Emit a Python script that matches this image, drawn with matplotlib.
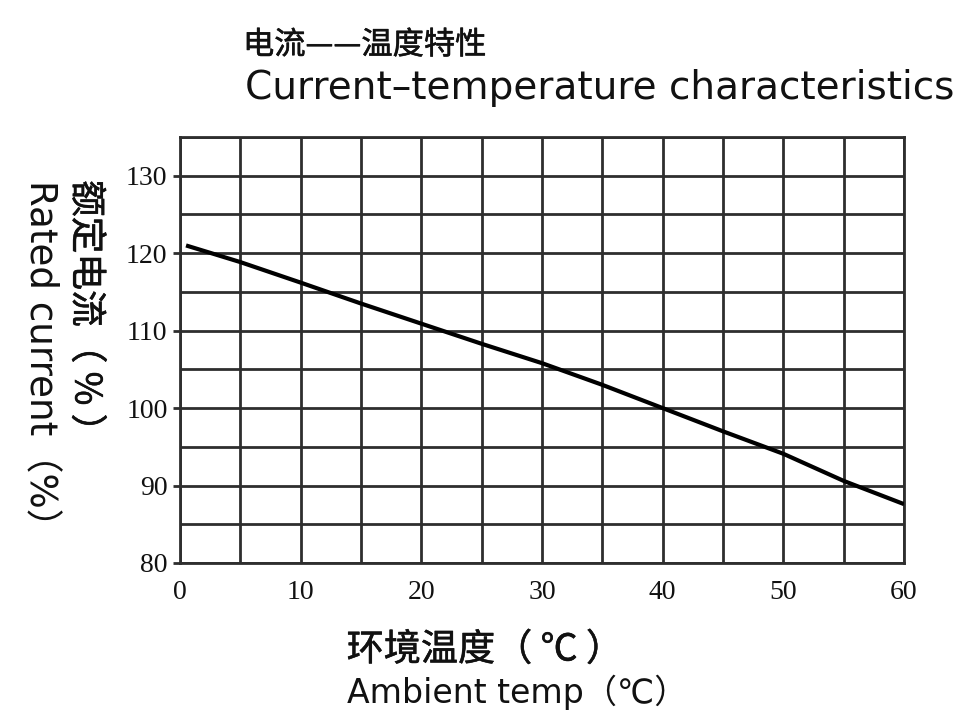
import matplotlib
matplotlib.use("Agg")
import matplotlib.pyplot as plt
import matplotlib.patheffects as pe
from matplotlib.ticker import MultipleLocator

temp = [0.5, 5, 10, 15, 20, 25, 30, 35, 40, 45, 50, 55, 60]
current = [121.0, 118.85, 116.2, 113.5, 110.9, 108.3, 105.8, 103.0, 100.0, 97.0, 94.1, 90.6, 87.6]
xticks = [0, 10, 20, 30, 40, 50, 60]
yticks = [80, 90, 100, 110, 120, 130]

title_cn = "电流——温度特性"
title_en = "Current–temperature characteristics"
ylabel_cn = "额定电流（ % ）"
ylabel_en = "Rated current（%）"
xlabel_cn = "环境温度（ ℃ ）"
xlabel_en = "Ambient temp（℃）"

fam = ["DejaVu Sans", "Noto Sans CJK SC"]
cjk = ["Noto Sans CJK SC", "DejaVu Sans"]

W, H = 963, 717
fig = plt.figure(figsize=(W / 100, H / 100), dpi=100)
ax = fig.add_axes([180 / W, 1 - 563 / H, 724 / W, 426 / H])
grid_c = "#2e2e2e"
ax.set_xlim(0, 60)
ax.set_ylim(80, 135)
ax.xaxis.set_minor_locator(MultipleLocator(5))
ax.yaxis.set_minor_locator(MultipleLocator(5))
ax.set_xticks(xticks)
ax.set_yticks(yticks)
ax.grid(True, which="both", color=grid_c, linewidth=2.0)
for s in ax.spines.values():
    s.set_color(grid_c)
    s.set_linewidth(2.0)
ax.tick_params(axis="both", which="both", length=0, pad=12, labelsize=20,
               colors="#111111")
ax.tick_params(axis="y", which="major", length=5, width=2.0, color=grid_c, pad=4)
for lab in ax.get_xticklabels() + ax.get_yticklabels():
    lab.set_fontfamily("Liberation Serif")
ax.plot(temp, current, color="#000000", linewidth=3.0, zorder=5, solid_capstyle="butt")

renderer = fig.canvas.get_renderer()
heavy = [pe.withStroke(linewidth=0.4, foreground="#111111")]


def fit_text(x0, x1, yc, s, family, size0, rotation=0, effects=None):
    """Place text so its extent spans x0..x1 (pixels; along the text direction)."""
    t = fig.text(0, 0, s, family=family, fontsize=size0, rotation=rotation,
                 ha="center", va="center", color="#111111")
    bb = t.get_window_extent(renderer)
    length = bb.height if rotation else bb.width
    t.set_fontsize(size0 * (x1 - x0) / length)
    if rotation:
        t.set_position((yc / W, 1 - (x0 + x1) / 2 / H))
    else:
        t.set_position(((x0 + x1) / 2 / W, 1 - yc / H))
    if effects:
        t.set_path_effects(effects)
    return t


fig.text(243 / W, 1 - 45 / H, title_cn, family=cjk, fontsize=22.5,
         ha="left", va="center", color="#111111", path_effects=heavy)
fit_text(245, 955, 88, title_en, fam, 24)
fit_text(180, 450, 86, ylabel_cn, cjk, 22, rotation=270, effects=heavy)
fit_text(180, 545, 40, ylabel_en, fam, 24, rotation=270)
fit_text(347, 623, 650, xlabel_cn, cjk, 22, effects=heavy)
fit_text(347, 688, 692, xlabel_en, fam, 24)

fig.savefig("out.png", dpi=100, facecolor="white")
